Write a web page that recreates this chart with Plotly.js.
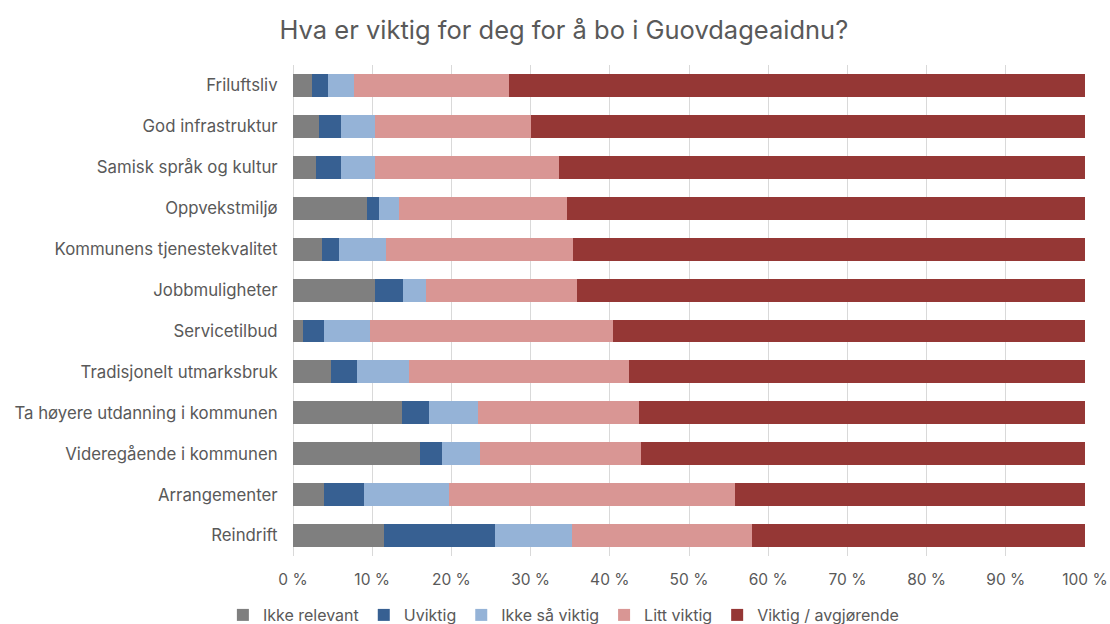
<!DOCTYPE html>
<html>
<head>
<meta charset="utf-8">
<script src="https://cdn.plot.ly/plotly-3.0.1.min.js"></script>
<style>html,body{margin:0;padding:0;background:#fff;}#chart{width:1110px;height:624px;}</style>
</head>
<body>
<div id="chart"></div>
<script>
const categories = ["Friluftsliv","God infrastruktur","Samisk språk og kultur","Oppvekstmiljø","Kommunens tjenestekvalitet","Jobbmuligheter","Servicetilbud","Tradisjonelt utmarksbruk","Ta høyere utdanning i kommunen","Videregående i kommunen","Arrangementer","Reindrift"];
const ikkeRelevant = [2.4, 3.3, 2.9, 9.4, 3.6, 10.4, 1.3, 4.8, 13.7, 16.0, 3.9, 11.5];
const uviktig      = [2.0, 2.8, 3.2, 1.5, 2.2, 3.5, 2.6, 3.3, 3.5, 2.85, 5.1, 14.0];
const ikkeSaViktig = [3.3, 4.2, 4.2, 2.5, 5.9, 2.9, 5.8, 6.6, 6.2, 4.75, 10.7, 9.7];
const littViktig   = [19.6, 19.7, 23.3, 21.2, 23.7, 19.0, 30.7, 27.7, 20.3, 20.3, 36.1, 22.8];
const viktig       = [72.7, 70.0, 66.4, 65.4, 64.6, 64.2, 59.6, 57.6, 56.3, 56.1, 44.2, 42.0];
const seriesNames = ["Ikke relevant","Uviktig","Ikke så viktig","Litt viktig","Viktig / avgjørende"];
const seriesValues = [ikkeRelevant, uviktig, ikkeSaViktig, littViktig, viktig];
const colors = ["#7F7F7F","#376092","#95B3D7","#D99694","#953735"];

const traces = seriesNames.map((n,i)=>({
  type:'bar', orientation:'h', name:n, y:categories, x:seriesValues[i],
  marker:{color:colors[i], line:{width:0}}, hoverinfo:'x+name'
}));

const font = "Inter, 'Open Sans', sans-serif";
Plotly.newPlot('chart', traces, {
  width:1110, height:624,
  barmode:'stack', bargap:0.44,
  font:{family:font, color:'#595959', size:16},
  title:{text:'Hva er viktig for deg for å bo i Guovdageaidnu?', font:{size:25.5, color:'#595959', family:font}, x:0.508, xanchor:'center', xref:'container', yref:'container', y:(624-30)/624, yanchor:'middle'},
  margin:{l:293, r:25, t:64.5, b:68, autoexpand:false},
  xaxis:{range:[0,100], dtick:10, ticksuffix:' %', showgrid:true, gridcolor:'#D9D9D9', gridwidth:1, zeroline:true, zerolinecolor:'#D9D9D9', zerolinewidth:1, tickfont:{size:15.5,color:'#595959'}, fixedrange:true, ticks:'outside', ticklen:9, tickcolor:'rgba(0,0,0,0)', showline:false, automargin:false},
  yaxis:{autorange:'reversed', tickfont:{size:16.8,color:'#595959'}, ticks:'outside', ticklen:11, tickcolor:'rgba(0,0,0,0)', showgrid:false, showline:false, zeroline:false, automargin:false},
  legend:{orientation:'h', xref:'container', x:0.508, xanchor:'center', yref:'container', y:(624-615)/624, yanchor:'middle', traceorder:'normal', font:{size:16,color:'#595959'}, itemwidth:30},
  showlegend:true,
  paper_bgcolor:'#fff', plot_bgcolor:'#fff'
}, {displayModeBar:false, staticPlot:true});
</script>
</body>
</html>
